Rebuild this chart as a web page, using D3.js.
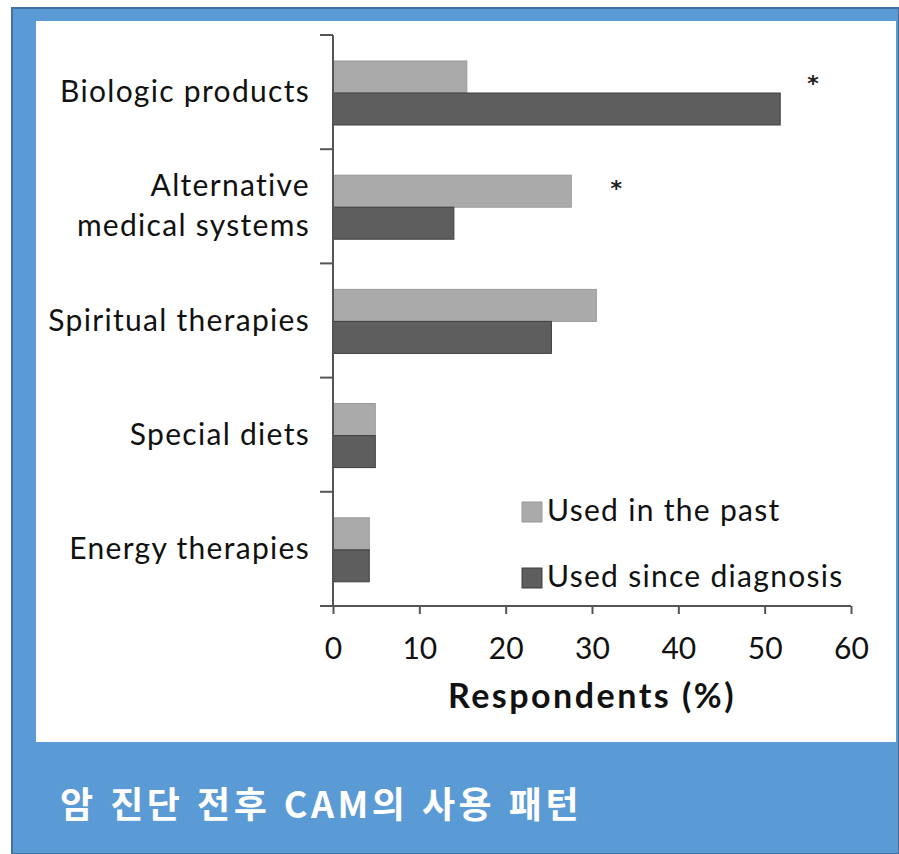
<!DOCTYPE html>
<html lang="ko">
<head>
<meta charset="utf-8">
<title>CAM use</title>
<style>
  body { margin: 0; background: #fff; }
  svg { display: block; }
</style>
<script src="https://cdn.jsdelivr.net/npm/d3@7/dist/d3.min.js"></script>
</head>
<body>
<script>
// data
var categories = ["Biologic products", "Alternative medical systems", "Spiritual therapies", "Special diets", "Energy therapies"];
var labelLines = [["Biologic products"], ["Alternative", "medical systems"], ["Spiritual therapies"], ["Special diets"], ["Energy therapies"]];
var seriesNames = ["Used in the past", "Used since diagnosis"];
var pastValues = [15.5, 27.6, 30.5, 4.9, 4.2];
var sinceValues = [51.8, 14.0, 25.3, 4.9, 4.2];
// significance asterisks: where they sit along the % axis (null = none)
var starAt = [55.6, 32.8, null, null, null];
var xTicks = [0, 10, 20, 30, 40, 50, 60];
var titleText = "암 진단 전후 CAM의 사용 패턴";

var W = 899, H = 854;
var svg = d3.select("body").append("svg").attr("width", W).attr("height", H);

// blue frame + white panel
svg.append("rect").attr("x", 12).attr("y", 8).attr("width", W - 12).attr("height", H - 8)
   .attr("fill", "#5b9bd5").attr("stroke", "#41719c").attr("stroke-width", 2);
svg.append("rect").attr("x", 36).attr("y", 21).attr("width", 860).attr("height", 721).attr("fill", "#fff");

var font = "Lato, 'Open Sans', sans-serif";
var x0 = 333, x1 = 851, yTop = 35, yBot = 606;

var x = d3.scaleLinear().domain([0, 60]).range([x0, x1]);
var y = d3.scaleBand().domain(categories).range([yTop, yBot]);
var sub = d3.scaleBand().domain(seriesNames).range([26, 90]);
var color = d3.scaleOrdinal().domain(seriesNames).range(["#aaaaaa", "#5e5e5e"]);
var edge = d3.scaleOrdinal().domain(seriesNames).range(["#999", "#3e3e3e"]);

var rows = categories.map(function (c, i) {
  return { cat: c, vals: [pastValues[i], sinceValues[i]] };
});

var g = svg.append("g");
rows.forEach(function (r, i) {
  r.vals.forEach(function (v, j) {
    var s = seriesNames[j];
    g.append("rect")
     .attr("x", x(0)).attr("y", y(r.cat) + sub(s))
     .attr("width", x(v) - x(0)).attr("height", sub.bandwidth())
     .attr("fill", color(s)).attr("stroke", edge(s)).attr("stroke-width", 1);
  });
  if (starAt[i] != null) {
    g.append("text")
     .attr("x", x(starAt[i])).attr("y", y(r.cat) + (i === 0 ? 56 : 47))
     .attr("text-anchor", "middle")
     .attr("font-family", "DejaVu Sans, sans-serif").attr("font-size", 22).attr("font-weight", "bold")
     .attr("fill", "#222").text("*");
  }
});

// y axis with ticks at band edges
var yEdges = categories.map(function (c) { return y(c); });
g.append("line").attr("x1", x0).attr("x2", x0).attr("y1", yTop).attr("y2", yBot)
 .attr("stroke", "#555").attr("stroke-width", 2);
g.selectAll(".ytick").data(yEdges).enter().append("line")
 .attr("x1", x0 - 13).attr("x2", x0).attr("y1", function (d) { return d; }).attr("y2", function (d) { return d; })
 .attr("stroke", "#555").attr("stroke-width", 2);

// category labels
rows.forEach(function (r, i) {
  var lines = labelLines[i];
  var cy = y(r.cat) + y.bandwidth() / 2;
  lines.forEach(function (t, k) {
    g.append("text")
     .attr("x", 310).attr("y", cy + 10 + (k - (lines.length - 1) / 2) * 40)
     .attr("text-anchor", "end").attr("font-family", font).attr("font-size", 30)
     .attr("letter-spacing", 1.3).attr("fill", "#111").text(t);
  });
});

// x axis
var xAxis = d3.axisBottom(x).tickValues(xTicks).tickSize(8).tickSizeOuter(0).tickPadding(24);
var ax = svg.append("g").attr("transform", "translate(0," + yBot + ")").call(xAxis);
ax.select(".domain").attr("stroke", "#555").attr("stroke-width", 2).attr("d", "M" + (x0 - 13) + ",0H" + x1);
ax.selectAll(".tick line").attr("stroke", "#555").attr("stroke-width", 2);
ax.selectAll(".tick text").attr("font-family", font).attr("font-size", 30).attr("fill", "#111");

svg.append("text").attr("x", x(30)).attr("y", 708).attr("text-anchor", "middle")
   .attr("font-family", font).attr("font-size", 34).attr("font-weight", "bold").attr("fill", "#111")
   .attr("letter-spacing", 2.5).text("Respondents (%)");

// legend
var leg = svg.append("g");
seriesNames.forEach(function (s, i) {
  var ly = 502 + i * 66;
  leg.append("rect").attr("x", 522).attr("y", ly).attr("width", 20).attr("height", 20)
     .attr("fill", color(s)).attr("stroke", edge(s));
  leg.append("text").attr("x", 547).attr("y", ly + 19)
     .attr("font-family", font).attr("font-size", 30).attr("letter-spacing", 1.3)
     .attr("fill", "#111").text(s);
});

// footer title
svg.append("text").attr("x", 60).attr("y", 818)
   .attr("font-family", "'Noto Sans CJK KR', sans-serif").attr("font-size", 36).attr("font-weight", "bold")
   .attr("letter-spacing", 3.5).attr("fill", "#fff").text(titleText);
</script>
</body>
</html>
